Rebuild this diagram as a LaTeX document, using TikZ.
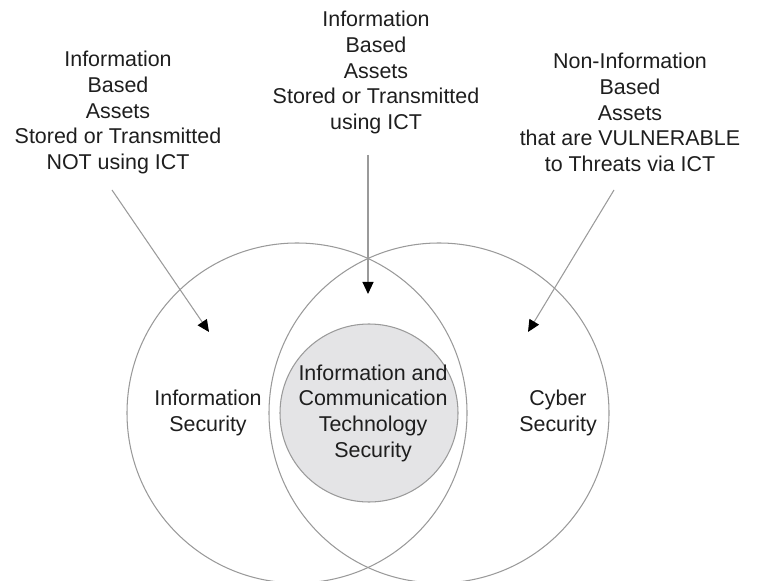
\documentclass[tikz,border=0pt]{standalone}
\usepackage{fontspec}
\setmainfont{Liberation Sans}
\usepackage{xcolor}
\usetikzlibrary{arrows.meta}
\definecolor{ringgray}{HTML}{9A9A9A}
\definecolor{ictfill}{HTML}{E4E4E6}
\definecolor{txtdark}{HTML}{1E1E1E}

\begin{document}
\begin{tikzpicture}[
    lbl/.style={align=center, text=txtdark, font=\fontsize{12.2}{14.6}\selectfont, inner sep=0pt},
    ring/.style={draw=ringgray, line width=0.6pt},
    ptr/.style={draw=ringgray, line width=0.6pt, -{Triangle[length=0.24cm, width=0.22cm, fill=black, black]}}
  ]
    \useasboundingbox (0,0) rectangle (15.16,11.6);

    % Two big circles
    \draw[ring] (5.94,3.34) circle (3.4);
    \draw[ring] (8.78,3.34) circle (3.4);

    % ICT circle (middle)
    \draw[ring, fill=ictfill] (7.38,3.34) circle (1.78);

    % Circle labels
    \node[lbl] (infosec) at (4.16,3.34) {Information\\Security};
    \node[lbl] (cybersec) at (11.16,3.34) {Cyber\\Security};
    \node[lbl] (ictsec) at (7.46,3.34) {Information and\\Communication\\Technology\\Security};

    % Asset descriptions on top
    \node[lbl] (assetsL) at (2.36,9.35) {Information\\Based\\Assets\\Stored or Transmitted\\NOT using ICT};
    \node[lbl] (assetsM) at (7.52,10.15) {Information\\Based\\Assets\\Stored or Transmitted\\using ICT};
    \node[lbl] (assetsR) at (12.6,9.35) {Non-Information\\Based\\Assets\\that are VULNERABLE\\to Threats via ICT};

    % Arrow ends
    \coordinate (srcL) at (2.24,7.8);
    \coordinate (tipL) at (4.18,4.96);
    \coordinate (srcM) at (7.36,8.5);
    \coordinate (tipM) at (7.36,5.72);
    \coordinate (srcR) at (12.28,7.8);
    \coordinate (tipR) at (10.56,4.96);

    % Arrows into the circles
    \draw[ptr] (srcL) -- (tipL);
    \draw[ptr] (srcM) -- (tipM);
    \draw[ptr] (srcR) -- (tipR);
\end{tikzpicture}
\end{document}
